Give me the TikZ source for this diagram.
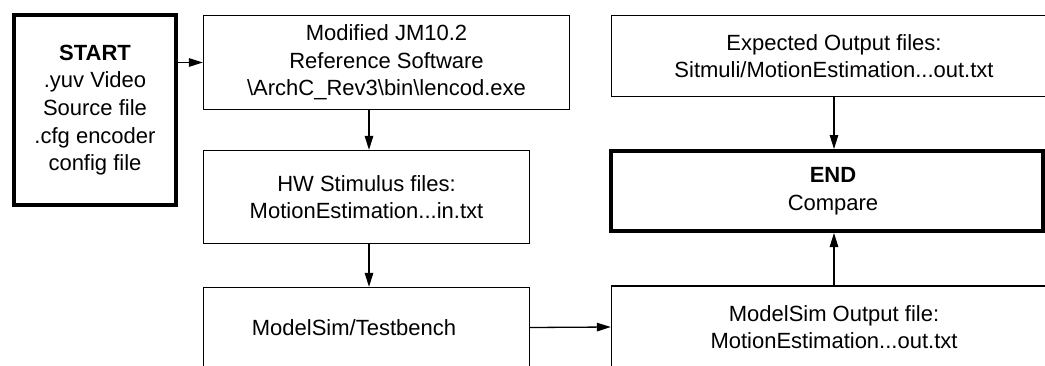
\documentclass[tikz,border=0pt]{standalone}
\usepackage{fontspec}
\setmainfont{Liberation Sans}
\usetikzlibrary{arrows.meta}
\newcommand{\boxfont}{\fontsize{22pt}{27.6pt}\selectfont}
\begin{document}
\begin{tikzpicture}[x=1pt,y=-1pt,
  box/.style={draw, line width=1.3pt, inner sep=0pt, align=center,
    font=\boxfont},
  thickbox/.style={box, line width=4pt},
  arr/.style={line width=1.3pt, -{Triangle[length=14pt,width=8.5pt]}}]
\useasboundingbox (0,0) rectangle (1045,365);
\clip (0,0) rectangle (1045,365);
\node[thickbox, minimum width=162pt, minimum height=190pt] (start) at (95,110)
  {\textbf{START}\\.yuv Video\\Source file\\.cfg encoder\\config file};
\node[box, minimum width=366pt, minimum height=94pt] (jm) at (386.5,62.5)
  {Modified JM10.2\\Reference Software\\\textbackslash ArchC\_Rev3\textbackslash bin\textbackslash lencod.exe};
\node[box, minimum width=326pt, minimum height=93pt] (hw) at (366.5,197)
  {HW Stimulus files:\\MotionEstimation...in.txt};
\node[box, minimum width=326pt, minimum height=80pt] (tb) at (366.5,327.5)
  {ModelSim/Testbench\hspace*{25pt}};
\node[box, minimum width=445pt, minimum height=81pt] (exp) at (834,56)
  {Expected Output files:\\Sitmuli/MotionEstimation...out.txt};
\node[thickbox, minimum width=432pt, minimum height=80pt] (end) at (827,191)
  {\hspace*{12pt}\textbf{END}\\\hspace*{12pt}Compare};
\node[box, minimum width=445pt, minimum height=82pt] (ms) at (834,327)
  {ModelSim Output file:\\MotionEstimation...out.txt};
\draw[arr] (start.east |- jm.west) -- (jm.west);
\draw[arr] ([xshift=2.5pt]jm.south -| hw.north) -- ([xshift=2.5pt]hw.north);
\draw[arr] ([xshift=2.5pt]hw.south) -- ([xshift=2.5pt]tb.north);
\draw[arr] (tb.east) -- (ms.west);
\draw[arr] (exp.south) -- (end.north -| exp.south);
\draw[arr] (ms.north) -- (end.south -| ms.north);
\end{tikzpicture}
\end{document}
